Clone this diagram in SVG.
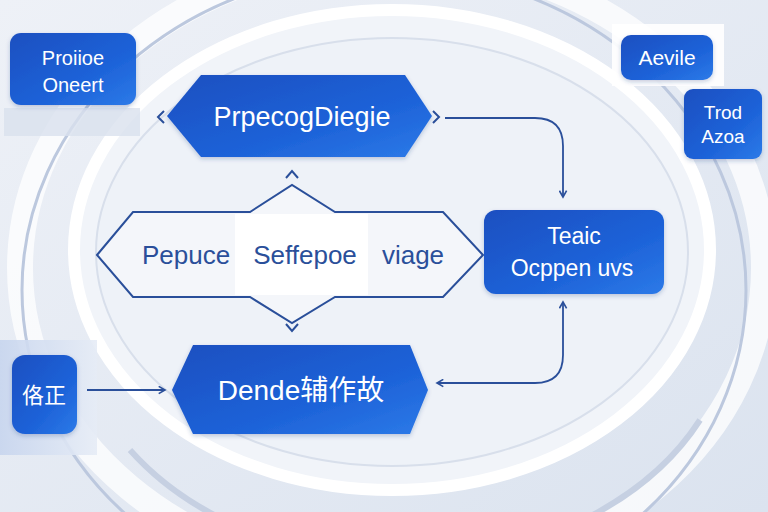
<svg xmlns="http://www.w3.org/2000/svg" width="768" height="512" viewBox="0 0 768 512">
<defs>
<linearGradient id="bg" x1="0" y1="0" x2="1" y2="1">
<stop offset="0" stop-color="#eef1f7"/><stop offset="1" stop-color="#dbe3ef"/>
</linearGradient>
<linearGradient id="blue" x1="0" y1="0" x2="1" y2="1">
<stop offset="0" stop-color="#1a4fc0"/><stop offset="0.6" stop-color="#1d62d8"/><stop offset="1" stop-color="#2c7ae8"/>
</linearGradient>
<linearGradient id="panel" x1="0" y1="0" x2="1" y2="0">
<stop offset="0" stop-color="#c7d5ee"/><stop offset="1" stop-color="#e6ecf6"/>
</linearGradient>
<marker id="ah" viewBox="0 0 10 10" refX="8" refY="5" markerWidth="9" markerHeight="9" orient="auto-start-reverse" markerUnits="userSpaceOnUse">
<path d="M1,1 L8,5 L1,9" fill="none" stroke="#2a4f9a" stroke-width="1.8"/>
</marker>
<filter id="sh" x="-10%" y="-10%" width="120%" height="130%">
<feDropShadow dx="0" dy="2" stdDeviation="2" flood-color="#1a3c80" flood-opacity="0.25"/>
</filter>
</defs>
<style>
.node{fill:url(#blue);filter:url(#sh)}
.wt{fill:#ffffff;font-family:"Liberation Sans","Noto Sans CJK SC",sans-serif;text-anchor:middle}
.bt{fill:#2a4f9a;font-family:"Liberation Sans","Noto Sans CJK SC",sans-serif;text-anchor:middle}
.con{fill:none;stroke:#2a4f9a;stroke-width:1.8}
.chev{fill:none;stroke:#2a4f9a;stroke-width:2}
</style>
<rect width="768" height="512" fill="url(#bg)"/>
<g id="background">
<ellipse cx="392" cy="268" rx="372" ry="310" fill="none" stroke="#ffffff" stroke-width="26" opacity="0.75"/>
<ellipse cx="384" cy="290" rx="362" ry="320" fill="none" stroke="#bcc8de" stroke-width="3"/>
<ellipse cx="392" cy="250" rx="318" ry="240" fill="#f1f4f9" stroke="#ffffff" stroke-width="12"/>
<ellipse cx="392" cy="252" rx="296" ry="214" fill="#eef2f8" stroke="#d8dfeb" stroke-width="2"/>
<path d="M130,450 A330,250 0 0 0 700,420" fill="none" stroke="#c6d0e2" stroke-width="6"/>
<rect x="4" y="108" width="136" height="28" fill="#d9e1ee" opacity="0.8"/>
<rect x="0" y="340" width="97" height="115" fill="url(#panel)" opacity="0.9"/>
<rect x="612" y="24" width="112" height="62" fill="#ffffff" opacity="0.9"/>
</g>
<g id="connectors">
<path class="con" d="M445,118 L535,118 Q563,118 563,146 L563,197" marker-end="url(#ah)"/>
<path class="con" d="M563,302 L563,355 Q563,383 535,383 L437,383" marker-start="url(#ah)" marker-end="url(#ah)"/>
<path class="con" d="M87,390 L165,390" marker-end="url(#ah)"/>
<path class="chev" d="M164,111 L158,117 L164,123"/>
<path class="chev" d="M433,111 L439,117 L433,123"/>
<path class="chev" d="M286,178 L292,171 L298,178"/>
<path class="chev" d="M286,324 L292,331 L298,324"/>
</g>
<g id="node-proiioe">
<rect class="node" x="10" y="33" width="126" height="72" rx="11"/>
<text class="wt" x="73" y="65" font-size="20">Proiioe</text>
<text class="wt" x="73" y="92" font-size="20">Oneert</text>
</g>
<g id="node-aevile">
<rect class="node" x="621" y="35" width="92" height="45" rx="10"/>
<text class="wt" x="667" y="65" font-size="21">Aevile</text>
</g>
<g id="node-trod">
<rect class="node" x="684" y="89" width="78" height="70" rx="9"/>
<text class="wt" x="723" y="119" font-size="19">Trod</text>
<text class="wt" x="723" y="143" font-size="19">Azoa</text>
</g>
<g id="node-prpecog">
<path class="node" d="M167,116 L201,75 L405,75 L432,116 L405,157 L201,157 Z"/>
<text class="wt" x="302" y="126" font-size="27">PrpecogDiegie</text>
</g>
<g id="node-pepuce">
<path d="M97,255 L133,212 L250,212 L292,185 L335,212 L443,212 L483,255 L443,297 L335,297 L292,323 L250,297 L133,297 Z" fill="#ffffff" fill-opacity="0.35" stroke="#2a4f9a" stroke-width="2"/>
<rect x="235" y="214" width="133" height="81" fill="#ffffff"/>
<text class="bt" x="186" y="264" font-size="26">Pepuce</text>
<text class="bt" x="305" y="264" font-size="26">Seffepoe</text>
<text class="bt" x="413" y="264" font-size="26">viage</text>
</g>
<g id="node-teaic">
<rect class="node" x="484" y="210" width="180" height="84" rx="12"/>
<text class="wt" x="574" y="244" font-size="23">Teaic</text>
<text class="wt" x="572" y="276" font-size="23">Ocppen uvs</text>
</g>
<g id="node-dende">
<path class="node" d="M172,390 L193,345 L410,345 L428,390 L410,434 L193,434 Z"/>
<text class="wt" x="301" y="400" font-size="28">Dende辅作故</text>
</g>
<g id="node-ge">
<rect class="node" x="12" y="355" width="65" height="79" rx="13"/>
<text class="wt" x="44" y="403" font-size="22">佫正</text>
</g>
</svg>
